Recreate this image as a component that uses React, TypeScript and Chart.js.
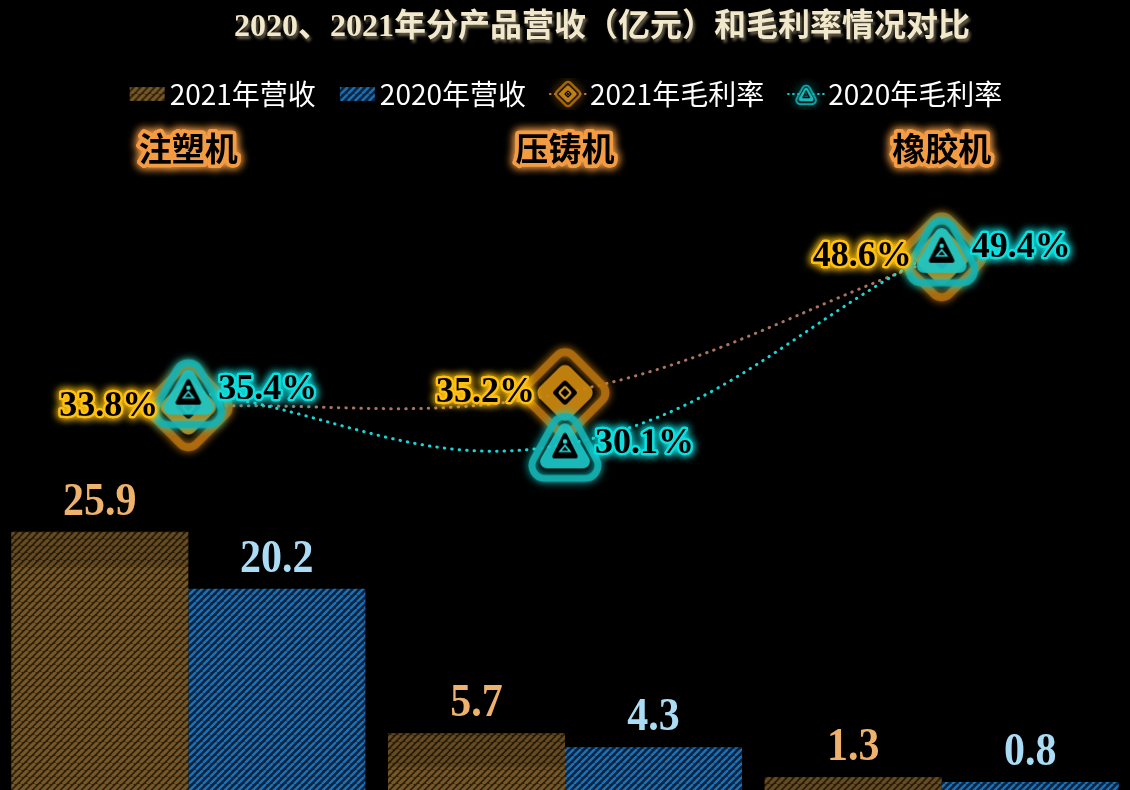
import React, { useEffect, useRef } from 'react';
import { Chart, registerables } from 'chart.js';

Chart.register(...registerables);

const categories = ['注塑机', '压铸机', '橡胶机'];
const revenue2021 = [25.9, 5.7, 1.3];
const revenue2020 = [20.2, 4.3, 0.8];
const margin2021 = [33.8, 35.2, 48.6];
const margin2020 = [35.4, 30.1, 49.4];
const seriesNames = ['2021年营收', '2020年营收', '2021年毛利率', '2020年毛利率'];
const titleText = '2020、2021年分产品营收（亿元）和毛利率情况对比';

const SERIF = '"Liberation Serif", "Times New Roman", "Noto Sans CJK SC", serif';
const SANS = '"Noto Sans CJK SC", "Noto Sans", sans-serif';

// diagonal "/" hatch tile
function makeHatch(base: string, stripe: string, period: number, stripeWidth: number) {
  const c = document.createElement('canvas');
  c.width = period;
  c.height = period;
  const g = c.getContext('2d')!;
  g.fillStyle = base;
  g.fillRect(0, 0, period, period);
  g.strokeStyle = stripe;
  g.lineWidth = stripeWidth;
  g.beginPath();
  for (const off of [-period, 0, period]) {
    g.moveTo(off, period);
    g.lineTo(off + period, 0);
  }
  g.stroke();
  return g.createPattern(c, 'repeat')!;
}

function diamondPath(ctx: CanvasRenderingContext2D, r: number, rad: number) {
  const a = r * Math.SQRT2;
  ctx.save();
  ctx.rotate(Math.PI / 4);
  ctx.beginPath();
  ctx.roundRect(-a / 2, -a / 2, a, a, rad);
  ctx.restore();
}

function trianglePath(ctx: CanvasRenderingContext2D, hw: number, top: number, bottom: number, rad: number) {
  const p = [
    [0, -top],
    [hw, bottom],
    [-hw, bottom],
  ];
  ctx.beginPath();
  ctx.moveTo((p[0][0] + p[2][0]) / 2, (p[0][1] + p[2][1]) / 2);
  for (let i = 0; i < 3; i++) {
    const a = p[i];
    const b = p[(i + 1) % 3];
    ctx.arcTo(a[0], a[1], b[0], b[1], rad);
  }
  ctx.closePath();
}

function drawDiamond(ctx: CanvasRenderingContext2D) {
  ctx.save();
  ctx.shadowColor = 'rgba(235,150,20,0.9)';
  ctx.shadowBlur = 8;
  ctx.strokeStyle = 'rgba(180,112,14,0.88)';
  ctx.lineWidth = 8;
  diamondPath(ctx, 45, 11);
  ctx.stroke();
  ctx.shadowBlur = 0;
  ctx.fillStyle = 'rgba(200,134,16,0.95)';
  diamondPath(ctx, 31, 8);
  ctx.fill();
  ctx.fillStyle = '#000';
  diamondPath(ctx, 13, 3);
  ctx.fill();
  ctx.strokeStyle = '#e2a232';
  ctx.lineWidth = 2.2;
  diamondPath(ctx, 6, 1.5);
  ctx.stroke();
  ctx.restore();
}

function drawTriangle(ctx: CanvasRenderingContext2D) {
  ctx.save();
  ctx.shadowColor = 'rgba(0,230,230,0.9)';
  ctx.shadowBlur = 9;
  ctx.strokeStyle = 'rgba(22,176,176,0.9)';
  ctx.lineWidth = 7;
  trianglePath(ctx, 42, 42, 34, 13);
  ctx.stroke();
  ctx.shadowBlur = 0;
  ctx.fillStyle = 'rgba(28,198,198,0.93)';
  trianglePath(ctx, 30, 28, 24, 7);
  ctx.fill();
  ctx.fillStyle = '#000';
  trianglePath(ctx, 14, 14, 14, 2);
  ctx.fill();
  ctx.strokeStyle = '#2ad8d8';
  ctx.fillStyle = '#2ad8d8';
  ctx.lineWidth = 1.6;
  ctx.beginPath();
  ctx.arc(0, -3, 2.2, 0, Math.PI * 2);
  ctx.fill();
  ctx.beginPath();
  ctx.moveTo(-5, 7);
  ctx.lineTo(0, 1);
  ctx.lineTo(5, 7);
  ctx.closePath();
  ctx.stroke();
  ctx.restore();
}

function makeMarker(draw: (ctx: CanvasRenderingContext2D) => void) {
  const S = 118;
  const c = document.createElement('canvas');
  c.width = S;
  c.height = S;
  const g = c.getContext('2d')!;
  g.translate(S / 2, S / 2);
  draw(g);
  return c;
}

// legend icons are wider than the legend box so the gap to the text stays small
const ICON_W = 50;
const ICON_SHIFT = 11;

function makeLegendBar(pattern: CanvasPattern) {
  const c = document.createElement('canvas');
  c.width = ICON_W;
  c.height = 14;
  const g = c.getContext('2d')!;
  g.fillStyle = pattern;
  g.fillRect(ICON_SHIFT + 2, 0, 35, 14);
  return c;
}

function makeLegendLine(color: string, draw: (ctx: CanvasRenderingContext2D) => void) {
  const c = document.createElement('canvas');
  c.width = ICON_W;
  c.height = 32;
  const g = c.getContext('2d')!;
  g.strokeStyle = color;
  g.lineWidth = 2.2;
  g.lineCap = 'round';
  g.setLineDash([0.5, 4.5]);
  g.beginPath();
  g.moveTo(ICON_SHIFT + 2, 16);
  g.lineTo(ICON_SHIFT + 38, 16);
  g.stroke();
  g.setLineDash([]);
  g.translate(ICON_SHIFT + 20, 16);
  g.scale(0.3, 0.3);
  draw(g);
  return c;
}

function glowText(
  ctx: CanvasRenderingContext2D,
  text: string,
  x: number,
  y: number,
  glow: string,
  width: number,
  blur: number
) {
  ctx.save();
  ctx.lineJoin = 'round';
  ctx.shadowColor = glow;
  ctx.shadowBlur = blur;
  ctx.strokeStyle = glow;
  ctx.lineWidth = width;
  ctx.strokeText(text, x, y);
  ctx.strokeText(text, x, y);
  ctx.shadowBlur = 0;
  ctx.fillStyle = '#000';
  ctx.fillText(text, x, y);
  ctx.restore();
}

const labelsPlugin = {
  id: 'labelsPlugin',
  afterDatasetsDraw(chart: any) {
    const ctx: CanvasRenderingContext2D = chart.ctx;
    ctx.save();
    // slightly darker band at the top of the gold bars
    chart.getDatasetMeta(0).data.forEach((el: any) => {
      const h = Math.min(34, el.base - el.y);
      ctx.fillStyle = 'rgba(0,0,0,0.14)';
      ctx.fillRect(el.x - el.width / 2, el.y, el.width, h);
    });
    // bar values (tall serif digits)
    ctx.font = `bold 42px ${SERIF}`;
    ctx.textAlign = 'center';
    ctx.textBaseline = 'middle';
    const barColors = ['#efb26c', '#aadcf6'];
    [0, 1].forEach((di) => {
      const meta = chart.getDatasetMeta(di);
      meta.data.forEach((el: any, i: number) => {
        const v = chart.data.datasets[di].data[i] as number;
        ctx.save();
        ctx.translate(el.x, el.y - 29);
        ctx.scale(1, 1.12);
        ctx.fillStyle = barColors[di];
        ctx.fillText(v.toFixed(1), 0, 0);
        ctx.restore();
      });
    });
    ctx.restore();
  },
  afterDraw(chart: any) {
    const ctx: CanvasRenderingContext2D = chart.ctx;
    ctx.save();
    // margin labels, above the markers
    ctx.font = `bold 36px ${SERIF}`;
    ctx.textBaseline = 'middle';
    chart.getDatasetMeta(2).data.forEach((el: any, i: number) => {
      ctx.textAlign = 'right';
      glowText(ctx, margin2021[i].toFixed(1) + '%', el.x - 30, el.y, '#ffc010', 4.5, 8);
    });
    chart.getDatasetMeta(3).data.forEach((el: any, i: number) => {
      ctx.textAlign = 'left';
      glowText(ctx, margin2020[i].toFixed(1) + '%', el.x + 30, el.y - 1, '#10dede', 4.5, 8);
    });
    // title
    ctx.font = `bold 32px ${SERIF}`;
    ctx.textAlign = 'center';
    ctx.shadowColor = 'rgba(110,100,80,0.95)';
    ctx.shadowOffsetX = 2;
    ctx.shadowOffsetY = 3;
    ctx.shadowBlur = 3;
    ctx.fillStyle = '#f2e8cc';
    ctx.fillText(titleText, 602, 28);
    ctx.shadowColor = 'transparent';
    ctx.shadowOffsetX = 0;
    ctx.shadowOffsetY = 0;
    // category labels on top axis
    const xs = chart.scales.x;
    ctx.font = `bold 33px ${SANS}`;
    categories.forEach((c, i) => {
      glowText(ctx, c, xs.getPixelForTick(i), 148, '#f39c44', 7, 10);
    });
    ctx.restore();
  },
};

export default function App() {
  const canvasRef = useRef<HTMLCanvasElement>(null);

  useEffect(() => {
    document.body.style.margin = '0';
    document.body.style.background = '#000';
    const canvas = canvasRef.current;
    if (!canvas) return;

    const goldHatch = makeHatch('#30210b', '#765828', 7, 3.1);
    const blueHatch = makeHatch('#0a2440', '#1e70b4', 7, 2.4);
    const diamond = makeMarker(drawDiamond);
    const triangle = makeMarker(drawTriangle);
    const legendIcons = [
      makeLegendBar(goldHatch),
      makeLegendBar(blueHatch),
      makeLegendLine('#b07b66', drawDiamond),
      makeLegendLine('#19d6d6', drawTriangle),
    ];

    const chart = new Chart(canvas, {
      type: 'bar',
      data: {
        labels: categories,
        datasets: [
          {
            type: 'bar',
            label: seriesNames[0],
            data: revenue2021,
            backgroundColor: goldHatch as any,
            borderWidth: 0,
            yAxisID: 'y',
            order: 2,
            categoryPercentage: 0.94,
            barPercentage: 1,
          },
          {
            type: 'bar',
            label: seriesNames[1],
            data: revenue2020,
            backgroundColor: blueHatch as any,
            borderWidth: 0,
            yAxisID: 'y',
            order: 2,
            categoryPercentage: 0.94,
            barPercentage: 1,
          },
          {
            type: 'line',
            label: seriesNames[2],
            data: margin2021,
            yAxisID: 'y2',
            order: 1,
            borderColor: '#aa7462',
            borderWidth: 3,
            borderDash: [0.5, 7],
            borderCapStyle: 'round',
            tension: 0.4,
            fill: false,
            pointStyle: diamond as any,
            pointRadius: 10,
            pointHoverRadius: 10,
          },
          {
            type: 'line',
            label: seriesNames[3],
            data: margin2020,
            yAxisID: 'y2',
            order: 0,
            borderColor: '#19d6d6',
            borderWidth: 3,
            borderDash: [0.5, 7],
            borderCapStyle: 'round',
            tension: 0.4,
            fill: false,
            pointStyle: triangle as any,
            pointRadius: 10,
            pointHoverRadius: 10,
          },
        ],
      },
      options: {
        responsive: true,
        maintainAspectRatio: false,
        animation: false,
        layout: { autoPadding: false, padding: { top: 58, left: 0, right: 0, bottom: 0 } },
        scales: {
          x: {
            position: 'top',
            grid: { display: false, drawTicks: false },
            border: { display: false },
            ticks: { display: false },
            afterFit: (s: any) => {
              s.height = 74;
            },
          },
          y: {
            display: false,
            min: 0,
            max: 60,
          },
          y2: {
            display: false,
            position: 'right',
            min: -4,
            max: 55,
          },
        },
        plugins: {
          title: { display: false },
          tooltip: { enabled: false },
          legend: {
            display: true,
            position: 'top',
            labels: {
              usePointStyle: true,
              pointStyleWidth: 28,
              padding: 22,
              color: '#ffffff',
              font: { family: SANS, size: 28 },
              generateLabels: () =>
                seriesNames.map((t, i) => ({
                  text: t,
                  pointStyle: legendIcons[i] as any,
                  fillStyle: 'transparent',
                  strokeStyle: 'transparent',
                  lineWidth: 0,
                  hidden: false,
                  datasetIndex: i,
                  fontColor: '#ffffff',
                })),
            },
          },
        },
      },
      plugins: [labelsPlugin],
    });

    return () => {
      chart.destroy();
    };
  }, []);

  return (
    <div style={{ position: 'relative', width: 1130, height: 790, background: '#000' }}>
      <canvas ref={canvasRef}></canvas>
    </div>
  );
}
